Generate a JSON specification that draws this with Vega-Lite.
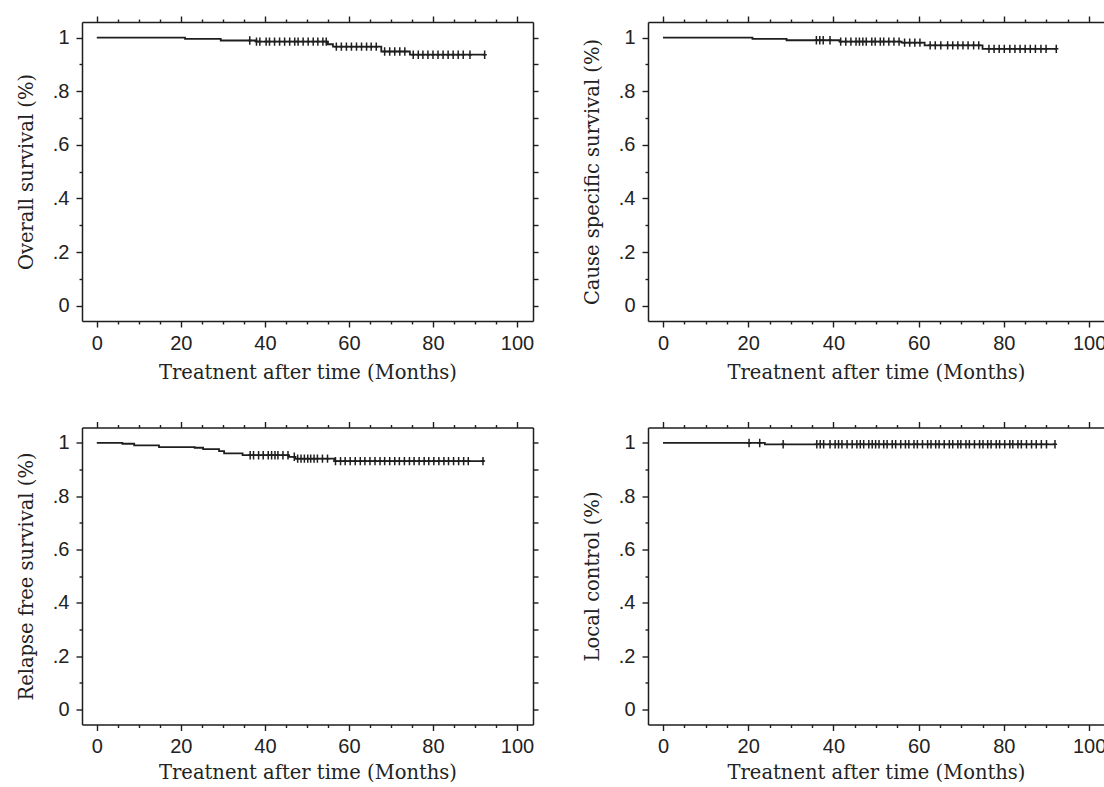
{
  "$schema": "https://vega.github.io/schema/vega-lite/v6.json",
  "background": "white",
  "padding": {"left": 16, "top": 15, "right": 0, "bottom": 0},
  "spacing": 38.5,
  "datasets": {
    "os_curve": [
      {"t": 0, "s": 1}, {"t": 21, "s": 0.995}, {"t": 29.5, "s": 0.989}, {"t": 38, "s": 0.985},
      {"t": 55, "s": 0.975}, {"t": 56.2, "s": 0.966}, {"t": 67.7, "s": 0.948}, {"t": 74.5, "s": 0.936}, {"t": 92.3, "s": 0.936}
    ],
    "os_cens": [
      {"t": 36.4, "s": 0.989}, {"t": 38.0, "s": 0.985}, {"t": 38.8, "s": 0.985}, {"t": 40.3, "s": 0.985},
      {"t": 41.1, "s": 0.985}, {"t": 42.3, "s": 0.985}, {"t": 43.5, "s": 0.985}, {"t": 44.7, "s": 0.985},
      {"t": 45.9, "s": 0.985}, {"t": 47.1, "s": 0.985}, {"t": 47.9, "s": 0.985}, {"t": 49.1, "s": 0.985},
      {"t": 50.3, "s": 0.985}, {"t": 51.5, "s": 0.985}, {"t": 52.6, "s": 0.985}, {"t": 53.8, "s": 0.985},
      {"t": 54.6, "s": 0.985}, {"t": 57.0, "s": 0.966}, {"t": 58.2, "s": 0.966}, {"t": 59.4, "s": 0.966},
      {"t": 60.6, "s": 0.966}, {"t": 61.8, "s": 0.966}, {"t": 63.0, "s": 0.966}, {"t": 64.2, "s": 0.966},
      {"t": 65.3, "s": 0.966}, {"t": 66.5, "s": 0.966}, {"t": 68.5, "s": 0.948}, {"t": 69.7, "s": 0.948},
      {"t": 70.9, "s": 0.948}, {"t": 72.1, "s": 0.948}, {"t": 73.3, "s": 0.948}, {"t": 75.3, "s": 0.936},
      {"t": 76.5, "s": 0.936}, {"t": 77.6, "s": 0.936}, {"t": 78.8, "s": 0.936}, {"t": 80.0, "s": 0.936},
      {"t": 81.2, "s": 0.936}, {"t": 82.4, "s": 0.936}, {"t": 83.6, "s": 0.936}, {"t": 84.8, "s": 0.936},
      {"t": 86.0, "s": 0.936}, {"t": 87.2, "s": 0.936}, {"t": 88.8, "s": 0.936}, {"t": 92.3, "s": 0.936}
    ],
    "css_curve": [
      {"t": 0, "s": 1}, {"t": 21, "s": 0.995}, {"t": 29, "s": 0.99}, {"t": 41.5, "s": 0.985},
      {"t": 56, "s": 0.981}, {"t": 61.4, "s": 0.971}, {"t": 75, "s": 0.958}, {"t": 92.3, "s": 0.958}
    ],
    "css_cens": [
      {"t": 36.0, "s": 0.99}, {"t": 36.8, "s": 0.99}, {"t": 37.6, "s": 0.99}, {"t": 39.2, "s": 0.99},
      {"t": 41.7, "s": 0.985}, {"t": 42.9, "s": 0.985}, {"t": 44.1, "s": 0.985}, {"t": 45.3, "s": 0.985},
      {"t": 46.1, "s": 0.985}, {"t": 46.9, "s": 0.985}, {"t": 47.7, "s": 0.985}, {"t": 49.0, "s": 0.985},
      {"t": 49.8, "s": 0.985}, {"t": 51.0, "s": 0.985}, {"t": 51.8, "s": 0.985}, {"t": 53.0, "s": 0.985},
      {"t": 54.2, "s": 0.985}, {"t": 55.4, "s": 0.985}, {"t": 56.7, "s": 0.981}, {"t": 57.9, "s": 0.981},
      {"t": 59.1, "s": 0.981}, {"t": 60.3, "s": 0.981}, {"t": 62.7, "s": 0.971}, {"t": 63.9, "s": 0.971},
      {"t": 65.2, "s": 0.971}, {"t": 66.8, "s": 0.971}, {"t": 68.0, "s": 0.971}, {"t": 69.2, "s": 0.971},
      {"t": 70.4, "s": 0.971}, {"t": 71.6, "s": 0.971}, {"t": 72.9, "s": 0.971}, {"t": 74.1, "s": 0.971},
      {"t": 76.5, "s": 0.958}, {"t": 77.7, "s": 0.958}, {"t": 78.9, "s": 0.958}, {"t": 80.1, "s": 0.958},
      {"t": 81.4, "s": 0.958}, {"t": 82.6, "s": 0.958}, {"t": 83.8, "s": 0.958}, {"t": 85.0, "s": 0.958},
      {"t": 86.2, "s": 0.958}, {"t": 87.4, "s": 0.958}, {"t": 88.7, "s": 0.958}, {"t": 89.9, "s": 0.958},
      {"t": 92.3, "s": 0.958}
    ],
    "rfs_curve": [
      {"t": 0, "s": 1}, {"t": 6.1, "s": 0.997}, {"t": 8.9, "s": 0.991}, {"t": 14.8, "s": 0.984},
      {"t": 23.3, "s": 0.982}, {"t": 25.3, "s": 0.977}, {"t": 29.1, "s": 0.969}, {"t": 30.3, "s": 0.961},
      {"t": 34.7, "s": 0.954}, {"t": 45.6, "s": 0.948}, {"t": 47.2, "s": 0.941}, {"t": 56.5, "s": 0.932},
      {"t": 92.2, "s": 0.932}
    ],
    "rfs_cens": [
      {"t": 36.5, "s": 0.954}, {"t": 37.3, "s": 0.954}, {"t": 38.5, "s": 0.954}, {"t": 39.6, "s": 0.954},
      {"t": 40.8, "s": 0.954}, {"t": 41.6, "s": 0.954}, {"t": 42.4, "s": 0.954}, {"t": 43.1, "s": 0.954},
      {"t": 44.3, "s": 0.954}, {"t": 45.5, "s": 0.954}, {"t": 47.0, "s": 0.948}, {"t": 47.8, "s": 0.941},
      {"t": 48.6, "s": 0.941}, {"t": 49.4, "s": 0.941}, {"t": 50.2, "s": 0.941}, {"t": 50.9, "s": 0.941},
      {"t": 51.7, "s": 0.941}, {"t": 52.5, "s": 0.941}, {"t": 53.7, "s": 0.941}, {"t": 54.9, "s": 0.941},
      {"t": 56.8, "s": 0.932}, {"t": 58.0, "s": 0.932}, {"t": 59.1, "s": 0.932}, {"t": 60.3, "s": 0.932},
      {"t": 61.5, "s": 0.932}, {"t": 62.7, "s": 0.932}, {"t": 63.8, "s": 0.932}, {"t": 65.0, "s": 0.932},
      {"t": 66.2, "s": 0.932}, {"t": 67.4, "s": 0.932}, {"t": 68.5, "s": 0.932}, {"t": 69.7, "s": 0.932},
      {"t": 70.9, "s": 0.932}, {"t": 72.0, "s": 0.932}, {"t": 73.2, "s": 0.932}, {"t": 74.4, "s": 0.932},
      {"t": 75.5, "s": 0.932}, {"t": 76.7, "s": 0.932}, {"t": 77.9, "s": 0.932}, {"t": 79.0, "s": 0.932},
      {"t": 80.2, "s": 0.932}, {"t": 81.4, "s": 0.932}, {"t": 82.6, "s": 0.932}, {"t": 83.7, "s": 0.932},
      {"t": 84.9, "s": 0.932}, {"t": 86.1, "s": 0.932}, {"t": 87.3, "s": 0.932}, {"t": 88.4, "s": 0.932},
      {"t": 91.9, "s": 0.932}
    ],
    "lc_curve": [
      {"t": 0, "s": 1}, {"t": 23.9, "s": 0.995}, {"t": 92.0, "s": 0.995}
    ],
    "lc_cens": [
      {"t": 20.2, "s": 1}, {"t": 22.7, "s": 1}, {"t": 28.2, "s": 0.995},
      {"t": 36.1, "s": 0.995}, {"t": 36.9, "s": 0.995}, {"t": 37.7, "s": 0.995}, {"t": 39.2, "s": 0.995},
      {"t": 40.4, "s": 0.995}, {"t": 41.2, "s": 0.995}, {"t": 42.0, "s": 0.995}, {"t": 43.2, "s": 0.995},
      {"t": 44.4, "s": 0.995}, {"t": 45.5, "s": 0.995}, {"t": 46.3, "s": 0.995}, {"t": 47.1, "s": 0.995},
      {"t": 48.3, "s": 0.995}, {"t": 49.1, "s": 0.995}, {"t": 49.9, "s": 0.995}, {"t": 50.7, "s": 0.995},
      {"t": 51.8, "s": 0.995}, {"t": 52.6, "s": 0.995}, {"t": 53.8, "s": 0.995}, {"t": 54.6, "s": 0.995},
      {"t": 55.8, "s": 0.995}, {"t": 56.9, "s": 0.995}, {"t": 57.7, "s": 0.995}, {"t": 58.9, "s": 0.995},
      {"t": 59.7, "s": 0.995}, {"t": 60.9, "s": 0.995}, {"t": 62.1, "s": 0.995}, {"t": 62.9, "s": 0.995},
      {"t": 64.0, "s": 0.995}, {"t": 64.8, "s": 0.995}, {"t": 66.0, "s": 0.995}, {"t": 67.2, "s": 0.995},
      {"t": 68.0, "s": 0.995}, {"t": 69.2, "s": 0.995}, {"t": 69.9, "s": 0.995}, {"t": 71.1, "s": 0.995},
      {"t": 71.9, "s": 0.995}, {"t": 73.1, "s": 0.995}, {"t": 74.3, "s": 0.995}, {"t": 75.1, "s": 0.995},
      {"t": 76.2, "s": 0.995}, {"t": 77.0, "s": 0.995}, {"t": 78.2, "s": 0.995}, {"t": 79.0, "s": 0.995},
      {"t": 80.2, "s": 0.995}, {"t": 81.4, "s": 0.995}, {"t": 82.1, "s": 0.995}, {"t": 83.3, "s": 0.995},
      {"t": 84.1, "s": 0.995}, {"t": 85.3, "s": 0.995}, {"t": 86.5, "s": 0.995}, {"t": 87.6, "s": 0.995},
      {"t": 88.8, "s": 0.995}, {"t": 90.0, "s": 0.995}, {"t": 92.0, "s": 0.995}
    ]
  },
  "vconcat": [
    {
      "hconcat": [
        {
          "width": 451, "height": 299,
          "resolve": {"axis": {"x": "independent", "y": "independent"}},
          "layer": [
            {
              "data": {"name": "os_curve"},
              "mark": {"type": "line", "interpolate": "step-after", "color": "#1e1e1e", "strokeWidth": 1.8},
              "encoding": {
                "x": {"field": "t", "type": "quantitative", "scale": {"domain": [-3.52, 103.8], "nice": false, "zero": false},
                  "axis": {"orient": "bottom", "values": [0, 20, 40, 60, 80, 100], "tickSize": 6, "labelPadding": 16, "labelBaseline": "middle", "labelFlush": false, "domain": true, "title": "Treatnent after time (Months)", "titleY": 51, "titleBaseline": "middle"}},
                "y": {"field": "s", "type": "quantitative", "scale": {"domain": [-0.057, 1.058], "nice": false, "zero": false},
                  "axis": {"orient": "left", "values": [0, 0.2, 0.4, 0.6, 0.8, 1], "tickSize": 6, "labelPadding": 7, "labelFlush": false, "labelExpr": "datum.value == 0 ? '0' : datum.value == 1 ? '1' : '.' + round(datum.value * 10)", "domain": true, "title": "Overall survival (%)", "titleX": -56, "titleBaseline": "middle"}}
              }
            },
            {
              "data": {"name": "os_cens"},
              "mark": {"type": "point", "shape": "M0,-1V1M-0.5,0H0.5", "size": 70, "color": "#1e1e1e", "strokeWidth": 1.5, "filled": false, "opacity": 1},
              "encoding": {
                "x": {"field": "t", "type": "quantitative", "scale": {"domain": [-3.52, 103.8], "nice": false, "zero": false},
                  "axis": {"orient": "bottom", "values": [5, 10, 15, 25, 30, 35, 45, 50, 55, 65, 70, 75, 85, 90, 95], "tickSize": 3, "labels": false, "domain": false, "title": null}},
                "y": {"field": "s", "type": "quantitative", "scale": {"domain": [-0.057, 1.058], "nice": false, "zero": false},
                  "axis": {"orient": "left", "values": [0.1, 0.3, 0.5, 0.7, 0.9], "tickSize": 3, "labels": false, "domain": false, "title": null}}
              }
            },
            {
              "data": {"name": "os_cens"},
              "mark": {"type": "point", "opacity": 0},
              "encoding": {
                "x": {"field": "t", "type": "quantitative", "scale": {"domain": [-3.52, 103.8], "nice": false, "zero": false},
                  "axis": {"orient": "top", "values": [0, 20, 40, 60, 80, 100], "tickSize": 6, "labels": false, "domain": true, "title": null}},
                "y": {"field": "s", "type": "quantitative", "scale": {"domain": [-0.057, 1.058], "nice": false, "zero": false},
                  "axis": {"orient": "right", "values": [0, 0.1, 0.2, 0.3, 0.4, 0.5, 0.6, 0.7, 0.8, 0.9, 1], "tickSize": 5, "labels": false, "domain": true, "title": null}}
              }
            },
            {
              "data": {"name": "os_cens"},
              "mark": {"type": "point", "opacity": 0},
              "encoding": {
                "x": {"field": "t", "type": "quantitative", "scale": {"domain": [-3.52, 103.8], "nice": false, "zero": false},
                  "axis": {"orient": "top", "values": [5, 10, 15, 25, 30, 35, 45, 50, 55, 65, 70, 75, 85, 90, 95], "tickSize": 3, "labels": false, "domain": false, "title": null}},
                "y": {"field": "s", "type": "quantitative", "scale": {"domain": [-0.057, 1.058], "nice": false, "zero": false}, "axis": null}
              }
            }
          ]
        },
        {
          "width": 456, "height": 299,
          "resolve": {"axis": {"x": "independent", "y": "independent"}},
          "layer": [
            {
              "data": {"name": "css_curve"},
              "mark": {"type": "line", "interpolate": "step-after", "color": "#1e1e1e", "strokeWidth": 1.8},
              "encoding": {
                "x": {"field": "t", "type": "quantitative", "scale": {"domain": [-3.52, 103.5], "nice": false, "zero": false},
                  "axis": {"orient": "bottom", "values": [0, 20, 40, 60, 80, 100], "tickSize": 6, "labelPadding": 16, "labelBaseline": "middle", "labelFlush": false, "domain": true, "title": "Treatnent after time (Months)", "titleY": 51, "titleBaseline": "middle"}},
                "y": {"field": "s", "type": "quantitative", "scale": {"domain": [-0.057, 1.058], "nice": false, "zero": false},
                  "axis": {"orient": "left", "values": [0, 0.2, 0.4, 0.6, 0.8, 1], "tickSize": 6, "labelPadding": 7, "labelFlush": false, "labelExpr": "datum.value == 0 ? '0' : datum.value == 1 ? '1' : '.' + round(datum.value * 10)", "domain": true, "title": "Cause specific survival (%)", "titleX": -56, "titleBaseline": "middle"}}
              }
            },
            {
              "data": {"name": "css_cens"},
              "mark": {"type": "point", "shape": "M0,-1V1M-0.5,0H0.5", "size": 70, "color": "#1e1e1e", "strokeWidth": 1.5, "filled": false, "opacity": 1},
              "encoding": {
                "x": {"field": "t", "type": "quantitative", "scale": {"domain": [-3.52, 103.5], "nice": false, "zero": false},
                  "axis": {"orient": "bottom", "values": [5, 10, 15, 25, 30, 35, 45, 50, 55, 65, 70, 75, 85, 90, 95], "tickSize": 3, "labels": false, "domain": false, "title": null}},
                "y": {"field": "s", "type": "quantitative", "scale": {"domain": [-0.057, 1.058], "nice": false, "zero": false},
                  "axis": {"orient": "left", "values": [0.1, 0.3, 0.5, 0.7, 0.9], "tickSize": 3, "labels": false, "domain": false, "title": null}}
              }
            },
            {
              "data": {"name": "css_cens"},
              "mark": {"type": "point", "opacity": 0},
              "encoding": {
                "x": {"field": "t", "type": "quantitative", "scale": {"domain": [-3.52, 103.5], "nice": false, "zero": false},
                  "axis": {"orient": "top", "values": [0, 20, 40, 60, 80, 100], "tickSize": 6, "labels": false, "domain": true, "title": null}},
                "y": {"field": "s", "type": "quantitative", "scale": {"domain": [-0.057, 1.058], "nice": false, "zero": false}, "axis": null}
              }
            },
            {
              "data": {"name": "css_cens"},
              "mark": {"type": "point", "opacity": 0},
              "encoding": {
                "x": {"field": "t", "type": "quantitative", "scale": {"domain": [-3.52, 103.5], "nice": false, "zero": false},
                  "axis": {"orient": "top", "values": [5, 10, 15, 25, 30, 35, 45, 50, 55, 65, 70, 75, 85, 90, 95], "tickSize": 3, "labels": false, "domain": false, "title": null}},
                "y": {"field": "s", "type": "quantitative", "scale": {"domain": [-0.057, 1.058], "nice": false, "zero": false}, "axis": null}
              }
            }
          ]
        }
      ]
    },
    {
      "hconcat": [
        {
          "width": 451, "height": 297,
          "resolve": {"axis": {"x": "independent", "y": "independent"}},
          "layer": [
            {
              "data": {"name": "rfs_curve"},
              "mark": {"type": "line", "interpolate": "step-after", "color": "#1e1e1e", "strokeWidth": 1.8},
              "encoding": {
                "x": {"field": "t", "type": "quantitative", "scale": {"domain": [-3.52, 103.8], "nice": false, "zero": false},
                  "axis": {"orient": "bottom", "values": [0, 20, 40, 60, 80, 100], "tickSize": 6, "labelPadding": 16, "labelBaseline": "middle", "labelFlush": false, "domain": true, "title": "Treatnent after time (Months)", "titleY": 48, "titleBaseline": "middle"}},
                "y": {"field": "s", "type": "quantitative", "scale": {"domain": [-0.057, 1.058], "nice": false, "zero": false},
                  "axis": {"orient": "left", "values": [0, 0.2, 0.4, 0.6, 0.8, 1], "tickSize": 6, "labelPadding": 7, "labelFlush": false, "labelExpr": "datum.value == 0 ? '0' : datum.value == 1 ? '1' : '.' + round(datum.value * 10)", "domain": true, "title": "Relapse free survival (%)", "titleX": -56, "titleBaseline": "middle"}}
              }
            },
            {
              "data": {"name": "rfs_cens"},
              "mark": {"type": "point", "shape": "M0,-1V1M-0.5,0H0.5", "size": 70, "color": "#1e1e1e", "strokeWidth": 1.5, "filled": false, "opacity": 1},
              "encoding": {
                "x": {"field": "t", "type": "quantitative", "scale": {"domain": [-3.52, 103.8], "nice": false, "zero": false},
                  "axis": {"orient": "bottom", "values": [5, 10, 15, 25, 30, 35, 45, 50, 55, 65, 70, 75, 85, 90, 95], "tickSize": 3, "labels": false, "domain": false, "title": null}},
                "y": {"field": "s", "type": "quantitative", "scale": {"domain": [-0.057, 1.058], "nice": false, "zero": false},
                  "axis": {"orient": "left", "values": [0.1, 0.3, 0.5, 0.7, 0.9], "tickSize": 3, "labels": false, "domain": false, "title": null}}
              }
            },
            {
              "data": {"name": "rfs_cens"},
              "mark": {"type": "point", "opacity": 0},
              "encoding": {
                "x": {"field": "t", "type": "quantitative", "scale": {"domain": [-3.52, 103.8], "nice": false, "zero": false},
                  "axis": {"orient": "top", "values": [0, 20, 40, 60, 80, 100], "tickSize": 6, "labels": false, "domain": true, "title": null}},
                "y": {"field": "s", "type": "quantitative", "scale": {"domain": [-0.057, 1.058], "nice": false, "zero": false},
                  "axis": {"orient": "right", "values": [0, 0.1, 0.2, 0.3, 0.4, 0.5, 0.6, 0.7, 0.8, 0.9, 1], "tickSize": 5, "labels": false, "domain": true, "title": null}}
              }
            },
            {
              "data": {"name": "rfs_cens"},
              "mark": {"type": "point", "opacity": 0},
              "encoding": {
                "x": {"field": "t", "type": "quantitative", "scale": {"domain": [-3.52, 103.8], "nice": false, "zero": false},
                  "axis": {"orient": "top", "values": [5, 10, 15, 25, 30, 35, 45, 50, 55, 65, 70, 75, 85, 90, 95], "tickSize": 3, "labels": false, "domain": false, "title": null}},
                "y": {"field": "s", "type": "quantitative", "scale": {"domain": [-0.057, 1.058], "nice": false, "zero": false}, "axis": null}
              }
            }
          ]
        },
        {
          "width": 456, "height": 297,
          "resolve": {"axis": {"x": "independent", "y": "independent"}},
          "layer": [
            {
              "data": {"name": "lc_curve"},
              "mark": {"type": "line", "interpolate": "step-after", "color": "#1e1e1e", "strokeWidth": 1.8},
              "encoding": {
                "x": {"field": "t", "type": "quantitative", "scale": {"domain": [-3.52, 103.5], "nice": false, "zero": false},
                  "axis": {"orient": "bottom", "values": [0, 20, 40, 60, 80, 100], "tickSize": 6, "labelPadding": 16, "labelBaseline": "middle", "labelFlush": false, "domain": true, "title": "Treatnent after time (Months)", "titleY": 48, "titleBaseline": "middle"}},
                "y": {"field": "s", "type": "quantitative", "scale": {"domain": [-0.057, 1.058], "nice": false, "zero": false},
                  "axis": {"orient": "left", "values": [0, 0.2, 0.4, 0.6, 0.8, 1], "tickSize": 6, "labelPadding": 7, "labelFlush": false, "labelExpr": "datum.value == 0 ? '0' : datum.value == 1 ? '1' : '.' + round(datum.value * 10)", "domain": true, "title": "Local control (%)", "titleX": -56, "titleBaseline": "middle"}}
              }
            },
            {
              "data": {"name": "lc_cens"},
              "mark": {"type": "point", "shape": "M0,-1V1M-0.5,0H0.5", "size": 70, "color": "#1e1e1e", "strokeWidth": 1.5, "filled": false, "opacity": 1},
              "encoding": {
                "x": {"field": "t", "type": "quantitative", "scale": {"domain": [-3.52, 103.5], "nice": false, "zero": false},
                  "axis": {"orient": "bottom", "values": [5, 10, 15, 25, 30, 35, 45, 50, 55, 65, 70, 75, 85, 90, 95], "tickSize": 3, "labels": false, "domain": false, "title": null}},
                "y": {"field": "s", "type": "quantitative", "scale": {"domain": [-0.057, 1.058], "nice": false, "zero": false},
                  "axis": {"orient": "left", "values": [0.1, 0.3, 0.5, 0.7, 0.9], "tickSize": 3, "labels": false, "domain": false, "title": null}}
              }
            },
            {
              "data": {"name": "lc_cens"},
              "mark": {"type": "point", "opacity": 0},
              "encoding": {
                "x": {"field": "t", "type": "quantitative", "scale": {"domain": [-3.52, 103.5], "nice": false, "zero": false},
                  "axis": {"orient": "top", "values": [0, 20, 40, 60, 80, 100], "tickSize": 6, "labels": false, "domain": true, "title": null}},
                "y": {"field": "s", "type": "quantitative", "scale": {"domain": [-0.057, 1.058], "nice": false, "zero": false}, "axis": null}
              }
            },
            {
              "data": {"name": "lc_cens"},
              "mark": {"type": "point", "opacity": 0},
              "encoding": {
                "x": {"field": "t", "type": "quantitative", "scale": {"domain": [-3.52, 103.5], "nice": false, "zero": false},
                  "axis": {"orient": "top", "values": [5, 10, 15, 25, 30, 35, 45, 50, 55, 65, 70, 75, 85, 90, 95], "tickSize": 3, "labels": false, "domain": false, "title": null}},
                "y": {"field": "s", "type": "quantitative", "scale": {"domain": [-0.057, 1.058], "nice": false, "zero": false}, "axis": null}
              }
            }
          ]
        }
      ]
    }
  ],
  "config": {
    "concat": {"spacing": 43},
    "view": {"stroke": null},
    "axis": {
      "grid": false,
      "domainColor": "#1e1e1e", "domainWidth": 1.5,
      "tickColor": "#1e1e1e", "tickWidth": 1.4,
      "labelColor": "#222222",
      "labelFont": "Liberation Sans",
      "labelFontSize": 20,
      "titleColor": "#222222",
      "titleFont": "DejaVu Serif",
      "titleFontSize": 19.5,
      "titleFontWeight": "normal"
    }
  }
}
